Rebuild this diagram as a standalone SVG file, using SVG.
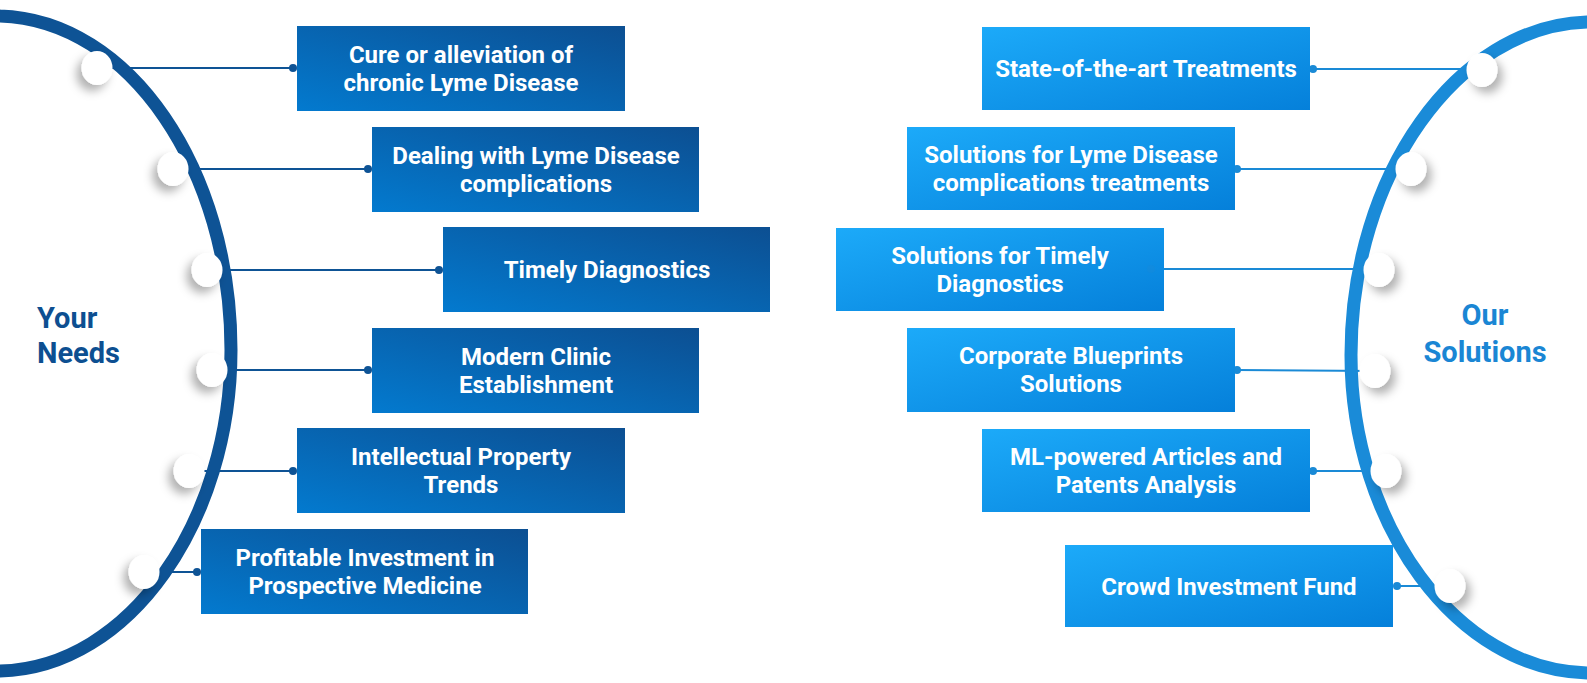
<svg xmlns="http://www.w3.org/2000/svg" width="1587" height="683" viewBox="0 0 1587 683">
<defs>
<linearGradient id="gL" x1="0" y1="1" x2="1" y2="0">
<stop offset="0" stop-color="#037acf"/>
<stop offset="1" stop-color="#0c4f92"/>
</linearGradient>
<linearGradient id="gR" x1="0" y1="0" x2="1" y2="1">
<stop offset="0" stop-color="#1caaf9"/>
<stop offset="1" stop-color="#0580da"/>
</linearGradient>
<filter id="shL" x="-100%" y="-100%" width="300%" height="300%">
<feDropShadow dx="-5" dy="6" stdDeviation="5" flood-color="#000" flood-opacity="0.3"/>
</filter>
<filter id="shR" x="-100%" y="-100%" width="300%" height="300%">
<feDropShadow dx="5" dy="6" stdDeviation="5" flood-color="#000" flood-opacity="0.3"/>
</filter>
</defs>
<style>
.bt{font-family:Roboto,"Liberation Sans",sans-serif;font-weight:700;font-size:24px;fill:#fff;text-anchor:middle}
.title{font-family:Roboto,"Liberation Sans",sans-serif;font-weight:700;font-size:29px}
.lc{stroke:#0e5395;stroke-width:2;fill:none}
.rc{stroke:#1a8ad6;stroke-width:2;fill:none}
.ld{fill:#0e5395}
.rd{fill:#1a8ad6}
.dot{fill:#fff}
</style>
<rect width="1587" height="683" fill="#fff"/>

<g id="connectors">
<line class="lc" x1="97" y1="68" x2="293" y2="68"/>
<line class="lc" x1="173" y1="169" x2="368" y2="169"/>
<line class="lc" x1="207" y1="270" x2="439" y2="270"/>
<line class="lc" x1="212" y1="370" x2="368" y2="370"/>
<line class="lc" x1="189" y1="471" x2="293" y2="471"/>
<line class="lc" x1="144" y1="572" x2="197" y2="572"/>
<line class="rc" x1="1313" y1="69" x2="1482" y2="69"/>
<line class="rc" x1="1237" y1="169" x2="1411" y2="169"/>
<line class="rc" x1="1151" y1="269" x2="1379" y2="269"/>
<line class="rc" x1="1237" y1="370" x2="1375" y2="371"/>
<line class="rc" x1="1313" y1="471" x2="1386" y2="471"/>
<line class="rc" x1="1397" y1="586" x2="1450" y2="586"/>
<circle class="ld" cx="293" cy="68" r="4"/>
<circle class="ld" cx="368" cy="169" r="4"/>
<circle class="ld" cx="439" cy="270" r="4"/>
<circle class="ld" cx="368" cy="370" r="4"/>
<circle class="ld" cx="293" cy="471" r="4"/>
<circle class="ld" cx="197" cy="572" r="4"/>
<circle class="rd" cx="1313" cy="69" r="4"/>
<circle class="rd" cx="1237" cy="169" r="4"/>
<circle class="rd" cx="1397" cy="586" r="4"/>
<circle class="rd" cx="1313" cy="471" r="4"/>
<circle class="rd" cx="1237" cy="370" r="4"/>
</g>

<g id="ring-left">
<path d="M-40,13 L0,16 C130,20 231,170 231,350 C231,520 130,668 0,671 L-40,672" fill="none" stroke="#0e5395" stroke-width="13"/>
</g>
<g id="ring-right">
<path d="M1627,20 L1587,22 C1457,26 1351,175 1351,355 C1351,525 1457,670 1587,673 L1627,674" fill="none" stroke="#1a8bd8" stroke-width="13"/>
</g>

<g id="your-needs">
<text class="title" fill="#0d4f91" x="37" y="328">Your</text>
<text class="title" fill="#0d4f91" x="37" y="363">Needs</text>
</g>
<g id="our-solutions">
<text class="title" fill="#1a86d4" x="1485" y="325" text-anchor="middle">Our</text>
<text class="title" fill="#1a86d4" x="1485" y="362" text-anchor="middle">Solutions</text>
</g>

<g id="dots-left" filter="url(#shL)">
<ellipse class="dot" cx="97" cy="68" rx="15.5" ry="17"/>
<ellipse class="dot" cx="173" cy="169" rx="15.5" ry="17"/>
<ellipse class="dot" cx="207" cy="270" rx="15.5" ry="17"/>
<ellipse class="dot" cx="212" cy="370" rx="15.5" ry="17"/>
<ellipse class="dot" cx="189" cy="471" rx="15.5" ry="17"/>
<ellipse class="dot" cx="144" cy="572" rx="15.5" ry="17"/>
</g>
<g id="dots-right" filter="url(#shR)">
<ellipse class="dot" cx="1482" cy="70" rx="15.5" ry="17"/>
<ellipse class="dot" cx="1411" cy="169" rx="15.5" ry="17"/>
<ellipse class="dot" cx="1379" cy="270" rx="15.5" ry="17"/>
<ellipse class="dot" cx="1375" cy="371" rx="15.5" ry="17"/>
<ellipse class="dot" cx="1386" cy="471" rx="15.5" ry="17"/>
<ellipse class="dot" cx="1450" cy="586" rx="15.5" ry="17"/>
</g>

<g id="need-1">
<rect x="297" y="26" width="328" height="85" fill="url(#gL)"/>
<text class="bt" x="461" y="63">Cure or alleviation of</text>
<text class="bt" x="461" y="91">chronic Lyme Disease</text>
</g>
<g id="need-2">
<rect x="372" y="127" width="327" height="85" fill="url(#gL)"/>
<text class="bt" x="536" y="164">Dealing with Lyme Disease</text>
<text class="bt" x="536" y="192">complications</text>
</g>
<g id="need-3">
<rect x="443" y="227" width="327" height="85" fill="url(#gL)"/>
<text class="bt" x="607" y="278">Timely Diagnostics</text>
</g>
<g id="need-4">
<rect x="372" y="328" width="327" height="85" fill="url(#gL)"/>
<text class="bt" x="536" y="365">Modern Clinic</text>
<text class="bt" x="536" y="393">Establishment</text>
</g>
<g id="need-5">
<rect x="297" y="428" width="328" height="85" fill="url(#gL)"/>
<text class="bt" x="461" y="465">Intellectual Property</text>
<text class="bt" x="461" y="493">Trends</text>
</g>
<g id="need-6">
<rect x="201" y="529" width="327" height="85" fill="url(#gL)"/>
<text class="bt" x="365" y="566">Profitable Investment in</text>
<text class="bt" x="365" y="594">Prospective Medicine</text>
</g>

<g id="solution-1">
<rect x="982" y="27" width="328" height="83" fill="url(#gR)"/>
<text class="bt" x="1146" y="77">State-of-the-art Treatments</text>
</g>
<g id="solution-2">
<rect x="907" y="127" width="328" height="83" fill="url(#gR)"/>
<text class="bt" x="1071" y="163">Solutions for Lyme Disease</text>
<text class="bt" x="1071" y="191">complications treatments</text>
</g>
<g id="solution-3">
<rect x="836" y="228" width="328" height="83" fill="url(#gR)"/>
<text class="bt" x="1000" y="264">Solutions for Timely</text>
<text class="bt" x="1000" y="292">Diagnostics</text>
<circle cx="1151" cy="269" r="4" fill="#1a8ad6" opacity="0.35"/>
</g>
<g id="solution-4">
<rect x="907" y="328" width="328" height="84" fill="url(#gR)"/>
<text class="bt" x="1071" y="364">Corporate Blueprints</text>
<text class="bt" x="1071" y="392">Solutions</text>
</g>
<g id="solution-5">
<rect x="982" y="429" width="328" height="83" fill="url(#gR)"/>
<text class="bt" x="1146" y="465">ML-powered Articles and</text>
<text class="bt" x="1146" y="493">Patents Analysis</text>
</g>
<g id="solution-6">
<rect x="1065" y="545" width="328" height="82" fill="url(#gR)"/>
<text class="bt" x="1229" y="595">Crowd Investment Fund</text>
</g>
</svg>
